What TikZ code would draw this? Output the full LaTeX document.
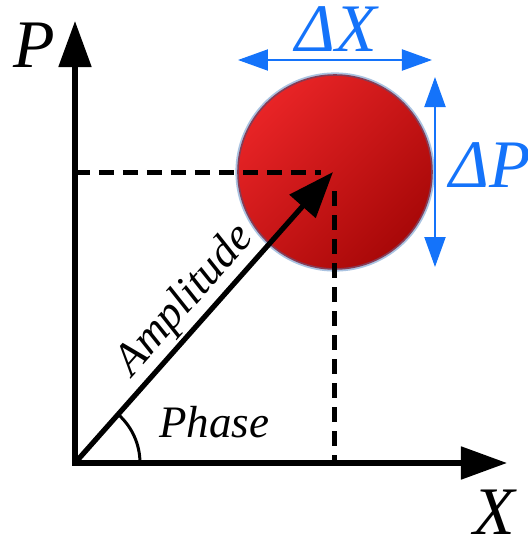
\documentclass[tikz,border=0pt]{standalone}
\usepackage{fontspec}
\setmainfont{Liberation Serif}
\usepackage{tikz}
\usetikzlibrary{arrows.meta, positioning, calc}
\definecolor{ublue}{RGB}{20,115,250}
\definecolor{spotlt}{RGB}{232,36,38}
\definecolor{spotdk}{RGB}{168,8,8}
\definecolor{spotedge}{RGB}{135,60,85}
\definecolor{glow}{RGB}{170,195,225}

\begin{document}
\begin{tikzpicture}[
  x=0.5pt,y=0.5pt,
  ax/.style={line width=2.6pt,-{Triangle[length=23pt,width=16pt]}},
  amp/.style={line width=2.6pt,-{Triangle[length=23pt,width=17pt]}},
  dsh/.style={line width=2.5pt,dash pattern=on 7.5pt off 4.5pt},
  unc/.style={line width=1pt,color=ublue,{Triangle[length=15pt,width=10.5pt]}-{Triangle[length=15pt,width=10.5pt]}},
  spot/.style={circle,minimum size=97pt,inner sep=0pt,
               top color=spotlt,bottom color=spotdk,shading angle=45,
               draw=spotedge,line width=0.8pt,
               preaction={draw=glow,line width=2.6pt}},
  big/.style={font=\fontsize{34}{40}\selectfont\itshape},
  lbl/.style={font=\fontsize{22.5}{27}\selectfont\itshape}
]
  \useasboundingbox (0,0) rectangle (527,543);
  % axes
  \coordinate (O) at (75,80);
  \coordinate (ptip) at (75,522);
  \coordinate (xtip) at (507,80);
  \draw[ax] ([yshift=-1.3pt]O) -- (ptip);
  \draw[ax] ([xshift=-1.3pt]O) -- (xtip);
  \node[big] (plab) at (34,498) {P};
  \node[big] (xlab) at (494,31) {X};
  % state
  \node[spot] (state) at (335,371) {};
  \draw[dsh] (O |- state) -- ([xshift=-7pt]state.center);
  \draw[dsh] ([yshift=-9.5pt]state.center) -- (state |- O);
  \draw[amp] (O) -- node[lbl,midway,above,sloped,inner sep=1pt] (amplab) {Amplitude} ([xshift=-1pt]state.center);
  \draw[line width=1.5pt] (O) ++(65,0) arc[start angle=0,end angle=48.5,radius=65];
  \node[lbl,anchor=base west] (phase) at (152,105) {Phase};
  % uncertainties
  \coordinate (dxa) at (238,483);
  \coordinate (dxb) at (432,483);
  \draw[unc] (dxa) -- (dxb);
  \node[big,text=ublue] (dxlab) at (336,514) {ΔX};
  \coordinate (dpa) at (435,466);
  \coordinate (dpb) at (435,276);
  \draw[unc] (dpa) -- (dpb);
  \node[big,text=ublue,anchor=west,inner sep=0pt] (dplab) at (449,378) {ΔP};
\end{tikzpicture}
\end{document}
